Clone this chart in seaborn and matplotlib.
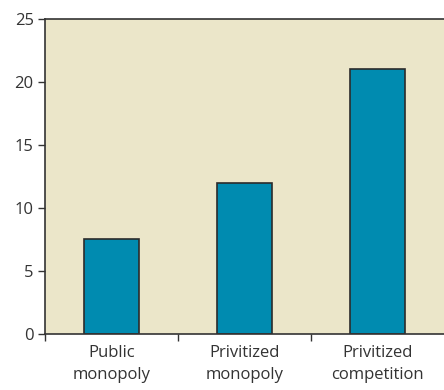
import matplotlib
matplotlib.use('Agg')
import matplotlib.pyplot as plt
import seaborn as sns
import pandas as pd

categorias = ['Public\nmonopoly', 'Privitized\nmonopoly', 'Privitized\ncompetition']
valores = [7.5, 12, 21]
yticks = [0, 5, 10, 15, 20, 25]

df = pd.DataFrame({'cat': categorias, 'val': valores})

sns.set_style('ticks')
plt.rcParams['font.family'] = ['Open Sans', 'DejaVu Sans']

fig = plt.figure(figsize=(4.44, 3.9), dpi=100)
ax = fig.add_axes([0.101, 0.144, 0.899, 0.807])
ax.set_facecolor('#ebe6c9')

sns.barplot(data=df, x='cat', y='val', color='#008bb0', saturation=1,
            width=0.41, edgecolor='#2b2b2b', linewidth=1.2, ax=ax)

ax.set_xlim(-0.5, 2.5)
ax.set_ylim(0, 25)
ax.set_yticks(yticks)
ax.set_xlabel('')
ax.set_ylabel('')

# etiquetas en el centro, marcas entre categorias
ax.set_xticks(range(len(categorias)))
ax.set_xticklabels(categorias, fontsize=12, color='#333333', linespacing=1.5)
ax.tick_params(axis='x', which='major', length=0, pad=8)
ax.set_xticks([-0.5, 0.5, 1.5], minor=True)
ax.tick_params(axis='x', which='minor', length=5, width=1, color='#333333')
ax.tick_params(axis='y', length=5, width=1, color='#333333', labelsize=12,
               labelcolor='#333333', pad=3)

for lado in ['left', 'bottom', 'top']:
    ax.spines[lado].set_color('#333333')
    ax.spines[lado].set_linewidth(1.2)
ax.spines['right'].set_visible(False)

fig.savefig('out.png', dpi=100)
